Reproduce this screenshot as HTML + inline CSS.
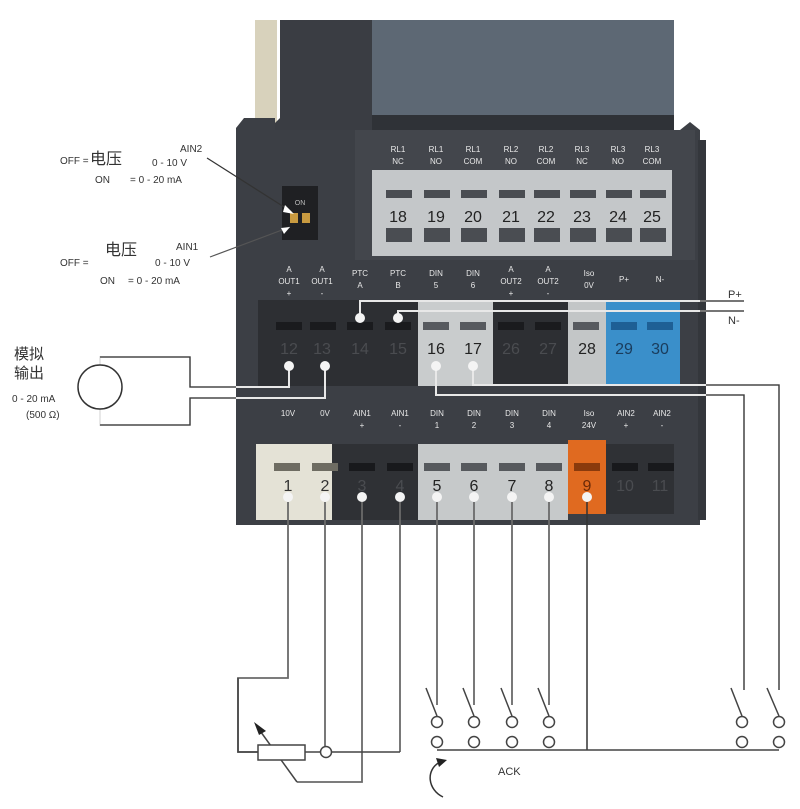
<!DOCTYPE html>
<html><head><meta charset="utf-8"><style>
html,body{margin:0;padding:0;background:#fff;}
svg{display:block;font-family:"Liberation Sans","Noto Sans CJK SC",sans-serif;}
</style></head><body>
<svg width="800" height="809" viewBox="0 0 800 809" xmlns="http://www.w3.org/2000/svg">
<rect x="255" y="20" width="22" height="112" fill="#d8d2bc"/>
<path d="M270 20 H375 V135 H270 V128 L280 118 V20Z" fill="#3a3d43"/>
<rect x="372" y="20" width="302" height="105" fill="#5d6874"/>
<rect x="372" y="115" width="302" height="15" fill="#2f3237"/>
<path d="M236 128 L244 118 H275 V130 H680 L690 122 L700 130 V525 H236Z" fill="#3c3f45"/>
<rect x="698" y="140" width="8" height="380" fill="#34373c"/>
<rect x="355" y="130" width="340" height="130" fill="#43464c"/>
<g fill="#e8e8e8" font-size="8" text-anchor="middle">
<text x="398" y="152">RL1</text><text x="398" y="164">NC</text>
<text x="436" y="152">RL1</text><text x="436" y="164">NO</text>
<text x="473" y="152">RL1</text><text x="473" y="164">COM</text>
<text x="511" y="152">RL2</text><text x="511" y="164">NO</text>
<text x="546" y="152">RL2</text><text x="546" y="164">COM</text>
<text x="582" y="152">RL3</text><text x="582" y="164">NC</text>
<text x="618" y="152">RL3</text><text x="618" y="164">NO</text>
<text x="652" y="152">RL3</text><text x="652" y="164">COM</text>
</g>
<rect x="372" y="170" width="300" height="86" fill="#c4c7c9"/>
<g fill="#4a4d52">
<rect x="386" y="190" width="26" height="8"/><rect x="424" y="190" width="26" height="8"/><rect x="461" y="190" width="26" height="8"/><rect x="499" y="190" width="26" height="8"/><rect x="534" y="190" width="26" height="8"/><rect x="570" y="190" width="26" height="8"/><rect x="606" y="190" width="26" height="8"/><rect x="640" y="190" width="26" height="8"/>
<rect x="386" y="228" width="26" height="14"/><rect x="424" y="228" width="26" height="14"/><rect x="461" y="228" width="26" height="14"/><rect x="499" y="228" width="26" height="14"/><rect x="534" y="228" width="26" height="14"/><rect x="570" y="228" width="26" height="14"/><rect x="606" y="228" width="26" height="14"/><rect x="640" y="228" width="26" height="14"/>
</g>
<g fill="#222" font-size="16" text-anchor="middle">
<text x="398" y="222">18</text><text x="436" y="222">19</text><text x="473" y="222">20</text><text x="511" y="222">21</text><text x="546" y="222">22</text><text x="582" y="222">23</text><text x="618" y="222">24</text><text x="652" y="222">25</text>
</g>
<rect x="282" y="186" width="36" height="54" fill="#1f2023"/>
<text x="300" y="205" fill="#bbb" font-size="7" text-anchor="middle">ON</text>
<rect x="290" y="213" width="8" height="10" fill="#c89a40"/><rect x="302" y="213" width="8" height="10" fill="#c89a40"/>
<g fill="#e8e8e8" font-size="8" text-anchor="middle">
<text x="289" y="272">A</text><text x="289" y="284">OUT1</text><text x="289" y="296">+</text>
<text x="322" y="272">A</text><text x="322" y="284">OUT1</text><text x="322" y="296">-</text>
<text x="360" y="276">PTC</text><text x="360" y="288">A</text>
<text x="398" y="276">PTC</text><text x="398" y="288">B</text>
<text x="436" y="276">DIN</text><text x="436" y="288">5</text>
<text x="473" y="276">DIN</text><text x="473" y="288">6</text>
<text x="511" y="272">A</text><text x="511" y="284">OUT2</text><text x="511" y="296">+</text>
<text x="548" y="272">A</text><text x="548" y="284">OUT2</text><text x="548" y="296">-</text>
<text x="589" y="276">Iso</text><text x="589" y="288">0V</text>
<text x="624" y="282">P+</text><text x="660" y="282">N-</text>
</g>
<rect x="258" y="300" width="160" height="86" fill="#2d2f33"/>
<rect x="418" y="300" width="75" height="86" fill="#c9cccd"/>
<rect x="493" y="300" width="75" height="86" fill="#2d2f33"/>
<rect x="568" y="300" width="38" height="86" fill="#c3c6c7"/>
<rect x="606" y="300" width="74" height="86" fill="#3a8fca"/>
<g fill="#1a1b1e">
<rect x="276" y="322" width="26" height="8"/><rect x="310" y="322" width="26" height="8"/><rect x="347" y="322" width="26" height="8"/><rect x="385" y="322" width="26" height="8"/>
<rect x="498" y="322" width="26" height="8"/><rect x="535" y="322" width="26" height="8"/>
</g>
<g fill="#575a5f"><rect x="423" y="322" width="26" height="8"/><rect x="460" y="322" width="26" height="8"/><rect x="573" y="322" width="26" height="8"/></g>
<g fill="#1e5f95"><rect x="611" y="322" width="26" height="8"/><rect x="647" y="322" width="26" height="8"/></g>
<g font-size="16" text-anchor="middle">
<text x="289" y="354" fill="#4a4c50">12</text><text x="322" y="354" fill="#4a4c50">13</text><text x="360" y="354" fill="#4a4c50">14</text><text x="398" y="354" fill="#4a4c50">15</text>
<text x="436" y="354" fill="#222">16</text><text x="473" y="354" fill="#222">17</text>
<text x="511" y="354" fill="#4a4c50">26</text><text x="548" y="354" fill="#4a4c50">27</text>
<text x="587" y="354" fill="#222">28</text><text x="624" y="354" fill="#1a3c5c">29</text><text x="660" y="354" fill="#1a3c5c">30</text>
</g>
<g fill="#e8e8e8" font-size="8" text-anchor="middle">
<text x="288" y="416">10V</text><text x="325" y="416">0V</text>
<text x="362" y="416">AIN1</text><text x="362" y="428">+</text>
<text x="400" y="416">AIN1</text><text x="400" y="428">-</text>
<text x="437" y="416">DIN</text><text x="437" y="428">1</text>
<text x="474" y="416">DIN</text><text x="474" y="428">2</text>
<text x="512" y="416">DIN</text><text x="512" y="428">3</text>
<text x="549" y="416">DIN</text><text x="549" y="428">4</text>
<text x="589" y="416">Iso</text><text x="589" y="428">24V</text>
<text x="626" y="416">AIN2</text><text x="626" y="428">+</text>
<text x="662" y="416">AIN2</text><text x="662" y="428">-</text>
</g>
<rect x="256" y="444" width="76" height="76" fill="#e4e2d6"/>
<rect x="332" y="444" width="86" height="76" fill="#2f3135"/>
<rect x="418" y="444" width="150" height="76" fill="#c6c9ca"/>
<rect x="568" y="440" width="38" height="74" fill="#e06a20"/>
<rect x="606" y="444" width="68" height="70" fill="#2f3135"/>
<g fill="#6e6c62"><rect x="274" y="463" width="26" height="8"/><rect x="312" y="463" width="26" height="8"/></g>
<g fill="#18191c"><rect x="349" y="463" width="26" height="8"/><rect x="387" y="463" width="26" height="8"/><rect x="612" y="463" width="26" height="8"/><rect x="648" y="463" width="26" height="8"/></g>
<g fill="#56595d"><rect x="424" y="463" width="26" height="8"/><rect x="461" y="463" width="26" height="8"/><rect x="499" y="463" width="26" height="8"/><rect x="536" y="463" width="26" height="8"/></g>
<rect x="574" y="463" width="26" height="8" fill="#8a3a0c"/>
<g font-size="16" text-anchor="middle">
<text x="288" y="491" fill="#333">1</text><text x="325" y="491" fill="#333">2</text>
<text x="362" y="491" fill="#4a4c50">3</text><text x="400" y="491" fill="#4a4c50">4</text>
<text x="437" y="491" fill="#222">5</text><text x="474" y="491" fill="#222">6</text><text x="512" y="491" fill="#222">7</text><text x="549" y="491" fill="#222">8</text>
<text x="587" y="491" fill="#6a2a08">9</text><text x="625" y="491" fill="#4a4c50">10</text><text x="660" y="491" fill="#4a4c50">11</text>
</g>
<g fill="none" stroke="#e8e8e8" stroke-width="2">
<path d="M360 318 V301 H744"/><path d="M398 318 V311 H744"/>
<path d="M289 366 V387 H190 V357 H100 V365"/>
<path d="M325 366 V398 H190 V425 H100 V409"/>
<path d="M436 366 V395 H744 V690"/>
<path d="M473 366 V385 H779 V690"/>
</g>
<g fill="none" stroke="#333" stroke-width="1.3">
<path d="M700 301 H744"/><path d="M700 311 H744"/>
<path d="M706 395 H744 V690"/><path d="M706 385 H779 V690"/>
<path d="M236 387 H190 V357 H100"/><path d="M236 398 H190 V425 H100"/>
</g>
<circle cx="100" cy="387" r="22" fill="#fff" stroke="#333" stroke-width="1.5"/>
<g fill="#f4f4f4">
<circle cx="360" cy="318" r="5"/><circle cx="398" cy="318" r="5"/>
<circle cx="289" cy="366" r="5"/><circle cx="325" cy="366" r="5"/><circle cx="436" cy="366" r="5"/><circle cx="473" cy="366" r="5"/>
<circle cx="288" cy="497" r="5"/><circle cx="325" cy="497" r="5"/><circle cx="362" cy="497" r="5"/><circle cx="400" cy="497" r="5"/><circle cx="437" cy="497" r="5"/><circle cx="474" cy="497" r="5"/><circle cx="512" cy="497" r="5"/><circle cx="549" cy="497" r="5"/><circle cx="587" cy="497" r="5"/>
</g>
<text x="728" y="298" font-size="11" fill="#333">P+</text>
<text x="728" y="324" font-size="11" fill="#333">N-</text>
<g fill="none" stroke="#6a6a6a" stroke-width="1.8">
<path d="M288 502 V678 H238 V752 H258"/><path d="M325 502 V746"/><path d="M362 502 V782 H297"/><path d="M400 502 V752"/>
<path d="M437 502 V705"/><path d="M474 502 V705"/><path d="M512 502 V705"/><path d="M549 502 V705"/>
</g>
<path d="M587 502 V750" stroke="#333" stroke-width="1.5"/>
<g fill="none" stroke="#444" stroke-width="1.5">
<path d="M238 678 V752 H258"/><path d="M305 752 H321"/><path d="M331 752 H400"/>
<path d="M297 782 L258 728"/>
<path d="M437 750 H779"/>
</g>
<rect x="258" y="745" width="47" height="15" fill="#fff" stroke="#444" stroke-width="1.5"/>
<polygon points="254,722 266,731 259,735" fill="#222"/>
<circle cx="326" cy="752" r="5.5" fill="#fff" stroke="#444" stroke-width="1.5"/>
<g fill="#fff" stroke="#444" stroke-width="1.5">
<path d="M426 688 L437 716 M463 688 L474 716 M501 688 L512 716 M538 688 L549 716 M731 688 L742 716 M767 688 L779 716" fill="none"/>
<circle cx="437" cy="722" r="5.5"/><circle cx="437" cy="742" r="5.5"/>
<circle cx="474" cy="722" r="5.5"/><circle cx="474" cy="742" r="5.5"/>
<circle cx="512" cy="722" r="5.5"/><circle cx="512" cy="742" r="5.5"/>
<circle cx="549" cy="722" r="5.5"/><circle cx="549" cy="742" r="5.5"/>
<circle cx="742" cy="722" r="5.5"/><circle cx="742" cy="742" r="5.5"/>
<circle cx="779" cy="722" r="5.5"/><circle cx="779" cy="742" r="5.5"/>
</g>
<path d="M443 797 C428 790 425 770 440 762" fill="none" stroke="#333" stroke-width="1.5"/>
<polygon points="436,758 447,760 439,767" fill="#222"/>
<text x="498" y="775" font-size="11" fill="#333">ACK</text>
<g fill="#333" font-size="10">
<text x="60" y="164">OFF =</text><text x="90" y="164" font-size="16">电压</text>
<text x="180" y="152">AIN2</text><text x="152" y="166">0 - 10 V</text>
<text x="95" y="183">ON</text><text x="130" y="183">= 0 - 20 mA</text>
<text x="60" y="266">OFF =</text><text x="105" y="255" font-size="16">电压</text>
<text x="176" y="250">AIN1</text><text x="155" y="266">0 - 10 V</text>
<text x="100" y="284">ON</text><text x="128" y="284">= 0 - 20 mA</text>
<text x="14" y="359" font-size="15">模拟</text>
<text x="14" y="378" font-size="15">输出</text>
<text x="12" y="402">0 - 20 mA</text>
<text x="26" y="418">(500 Ω)</text>
</g>
<path d="M207 158 L292 212" stroke="#333" stroke-width="1.2"/>
<path d="M210 257 L290 227" stroke="#555" stroke-width="1.2"/>
<polygon points="294,214 285,205 283,212" fill="#fff"/>
<polygon points="290,227 281,228 284,234" fill="#fff"/>
</svg>
</body></html>
